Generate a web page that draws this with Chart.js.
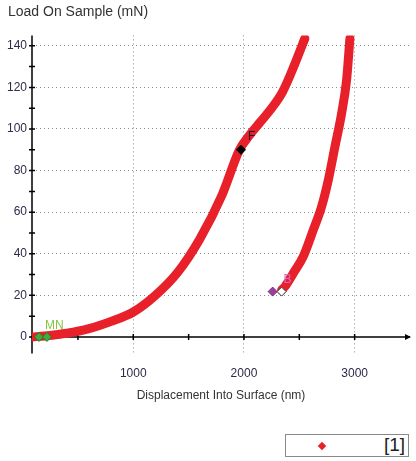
<!DOCTYPE html>
<html>
<head>
<meta charset="utf-8">
<script src="https://cdn.jsdelivr.net/npm/chart.js@4.4.1/dist/chart.umd.min.js"></script>
<style>
  body { margin: 0; background: #fff; font-family: "Liberation Sans", Arial, sans-serif; }
  #wrap { position: relative; width: 416px; height: 461px; }
  #legendBox {
    position: absolute; left: 285px; top: 434px; width: 124px; height: 23px;
    border: 1px solid #8a8a8a; box-sizing: border-box; background: #fff;
  }
  #legendBox .dot {
    position: absolute; left: 33px; top: 8px; width: 6px; height: 6px;
    background: #e8202a; transform: rotate(45deg);
  }
  #legendBox .txt {
    position: absolute; right: 3px; top: -1px; font-size: 19px; color: #222;
  }
</style>
</head>
<body>
<div id="wrap">
  <canvas id="ldChart" width="416" height="461"></canvas>
  <div id="legendBox"><span class="dot"></span><span class="txt">[1]</span></div>
</div>
<script>
// loading segment (nm, mN)
const loadX = [85, 200, 400, 600, 800, 1000, 1200, 1400, 1600, 1800, 1960, 2050, 2150, 2250, 2350, 2450, 2550];
const loadY = [0, 0.5, 1.8, 4, 7.5, 12, 20, 31, 47, 68, 90, 97, 103.5, 110, 118, 130, 143.5];

// unloading segment
const unloadX = [2340, 2370, 2445, 2535, 2626, 2701, 2762, 2822, 2882, 2927, 2957];
const unloadY = [22.6, 24.2, 30.6, 38.6, 51.4, 62.6, 75.5, 91.5, 107.5, 123.5, 143.5];

// segment markers
const markerX = [148, 220, 1973, 2259, 2340];
const markerY = [0, 0, 90, 21.8, 21.8];
const markerNames = ['', 'MN', 'F', '', 'B'];

const xTicks = [1000, 2000, 3000];
const yTicks = [0, 20, 40, 60, 80, 100, 120, 140];

const red = '#e8202a';
const markerFill = ['#3cae3c', '#3cae3c', '#000000', '#9c3f9e', '#ffffff'];
const markerEdge = ['#2a7a2a', '#2a7a2a', '#000000', '#7a2a7c', '#333333'];
const labelColor = ['', '#86c43c', '#1c1c3a', '', '#d46fd0'];
const labelOffset = [null, [-2, -11], [7, -13], null, [2, -12]];

const toPts = (xs, ys) => xs.map((x, i) => ({ x: x, y: ys[i] }));

const axesPlugin = {
  id: 'axes',
  beforeDatasetsDraw(chart) {
    const { ctx, chartArea, scales } = chart;
    const xs = scales.x, ys = scales.y;
    const x0 = chartArea.left, y0 = ys.getPixelForValue(0);
    ctx.save();
    ctx.strokeStyle = '#000';
    ctx.lineWidth = 1.5;
    ctx.beginPath();
    ctx.moveTo(x0, chartArea.top);
    ctx.lineTo(x0, chartArea.bottom);
    ctx.moveTo(x0, y0);
    ctx.lineTo(chartArea.right, y0);
    // minor ticks on y
    for (let v = 0; v <= 140; v += 10) {
      const p = ys.getPixelForValue(v);
      ctx.moveTo(x0 - 3, p);
      ctx.lineTo(x0 + 3, p);
    }
    // ticks on x
    for (let v = 500; v <= 3000; v += 500) {
      const p = xs.getPixelForValue(v);
      ctx.moveTo(p, y0 - 3);
      ctx.lineTo(p, y0 + 3);
    }
    ctx.stroke();
    // arrow head
    ctx.beginPath();
    ctx.moveTo(chartArea.right + 1, y0);
    ctx.lineTo(chartArea.right - 5, y0 - 3);
    ctx.lineTo(chartArea.right - 5, y0 + 3);
    ctx.closePath();
    ctx.fillStyle = '#000';
    ctx.fill();
    // y axis title
    ctx.fillStyle = '#333';
    ctx.font = '14px "Liberation Sans", Arial, sans-serif';
    ctx.textBaseline = 'middle';
    ctx.textAlign = 'left';
    ctx.fillText('Load On Sample (mN)', 8, 12);
    ctx.restore();
  },
  afterDatasetsDraw(chart) {
    const { ctx, scales } = chart;
    ctx.save();
    ctx.font = '12px "Liberation Sans", Arial, sans-serif';
    ctx.textBaseline = 'middle';
    ctx.textAlign = 'left';
    markerNames.forEach((name, i) => {
      if (!name) return;
      const px = scales.x.getPixelForValue(markerX[i]);
      const py = scales.y.getPixelForValue(markerY[i]);
      ctx.fillStyle = labelColor[i];
      ctx.fillText(name, px + labelOffset[i][0], py + labelOffset[i][1]);
    });
    ctx.restore();
  }
};

new Chart(document.getElementById('ldChart'), {
  type: 'scatter',
  data: {
    datasets: [
      {
        label: 'markers',
        data: toPts(markerX, markerY),
        pointStyle: 'rectRot',
        pointRadius: 4.5,
        backgroundColor: markerFill,
        borderColor: markerEdge,
        borderWidth: 1,
        showLine: false,
        order: 0
      },
      {
        label: 'loading',
        data: toPts(loadX, loadY),
        showLine: true,
        borderColor: red,
        borderWidth: 9,
        borderCapStyle: 'round',
        borderJoinStyle: 'round',
        cubicInterpolationMode: 'monotone',
        pointRadius: 0,
        order: 1
      },
      {
        label: 'unloading',
        data: toPts(unloadX, unloadY),
        showLine: true,
        borderColor: red,
        borderWidth: 9,
        borderCapStyle: 'round',
        borderJoinStyle: 'round',
        cubicInterpolationMode: 'monotone',
        pointRadius: 0,
        order: 1
      }
    ]
  },
  options: {
    responsive: false,
    animation: false,
    layout: { padding: { top: 35.4, right: 6, left: 0, bottom: 0 } },
    plugins: {
      legend: { display: false },
      tooltip: { enabled: false }
    },
    scales: {
      x: {
        type: 'linear',
        min: 85,
        max: 3500,
        afterBuildTicks: s => { s.ticks = xTicks.map(v => ({ value: v })); },
        afterFit: s => { s.height = 107.4; },
        border: { display: false, dash: [1, 3] },
        grid: { color: '#8a8a8a', lineWidth: 1, drawTicks: false },
        ticks: {
          padding: 13,
          color: '#2b2b4a',
          font: { family: '"Liberation Sans", Arial, sans-serif', size: 12 },
          callback: v => String(v)
        },
        title: {
          display: true,
          text: 'Displacement Into Surface (nm)',
          color: '#333',
          font: { family: '"Liberation Sans", Arial, sans-serif', size: 12 },
          padding: { top: 0, bottom: 57.8 }
        }
      },
      y: {
        type: 'linear',
        min: -8,
        max: 145,
        afterBuildTicks: s => { s.ticks = yTicks.map(v => ({ value: v })); },
        afterFit: s => { s.width = 32; },
        border: { display: false, dash: [1, 3] },
        grid: {
          color: ctx => (ctx.tick && ctx.tick.value === 0 ? 'rgba(0,0,0,0)' : '#8a8a8a'),
          lineWidth: 1,
          drawTicks: false
        },
        ticks: {
          padding: 5,
          color: '#2b2b4a',
          font: { family: '"Liberation Sans", Arial, sans-serif', size: 12 },
          callback: v => String(v)
        }
      }
    }
  },
  plugins: [axesPlugin]
});
</script>
</body>
</html>
